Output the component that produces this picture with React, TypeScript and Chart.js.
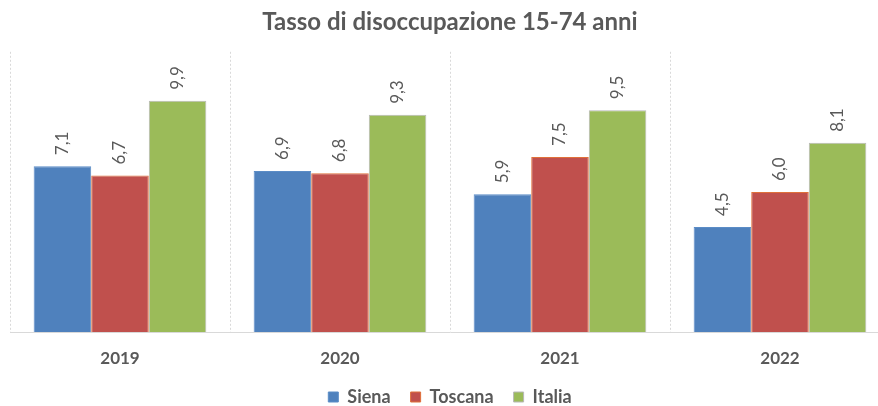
import React, { useEffect, useRef } from "react";
import { Chart, registerables } from "chart.js";

Chart.register(...registerables);

const categories = ["2019", "2020", "2021", "2022"];
const siena = [7.1, 6.9, 5.9, 4.5];
const toscana = [6.7, 6.8, 7.5, 6.0];
const italia = [9.9, 9.3, 9.5, 8.1];
const seriesNames = ["Siena", "Toscana", "Italia"];
const titleText = "Tasso di disoccupazione 15-74 anni";

const FONT = "Lato, 'Open Sans', sans-serif";
const TEXT = "#595959";

const labelPlugin = {
  id: "barLabels",
  afterDatasetsDraw(chart: any) {
    const ctx = chart.ctx;
    ctx.save();
    ctx.font = `17px ${FONT}`;
    ctx.fillStyle = TEXT;
    ctx.textAlign = "left";
    ctx.textBaseline = "middle";
    chart.data.datasets.forEach((ds: any, i: number) => {
      const meta = chart.getDatasetMeta(i);
      meta.data.forEach((el: any, j: number) => {
        const v = ds.data[j] as number;
        const txt = v.toFixed(1).replace(".", ",");
        ctx.save();
        ctx.translate(el.x, el.y - 11);
        ctx.rotate(-Math.PI / 2);
        ctx.fillText(txt, 0, 0);
        ctx.restore();
      });
    });
    ctx.restore();
  },
};

export default function App() {
  const ref = useRef<HTMLCanvasElement | null>(null);
  useEffect(() => {
    if (!ref.current) return;
    const chart = new Chart(ref.current, {
      type: "bar",
      data: {
        labels: categories,
        datasets: [
          { label: seriesNames[0], data: siena, backgroundColor: "#4f81bd", borderColor: "#5b8cc6", borderWidth: 1 },
          { label: seriesNames[1], data: toscana, backgroundColor: "#c0504d", borderColor: "#e0703a", borderWidth: 1 },
          { label: seriesNames[2], data: italia, backgroundColor: "#9bbb59", borderColor: "#b8b8b8", borderWidth: 1 },
        ],
      },
      options: {
        animation: false,
        responsive: true,
        maintainAspectRatio: false,
        layout: { padding: { left: 10, right: 0, top: 0, bottom: 0 } },
        datasets: { bar: { categoryPercentage: 0.785, barPercentage: 1 } },
        plugins: {
          title: {
            display: true,
            text: titleText,
            color: TEXT,
            font: { family: FONT, size: 24, weight: "bold" },
            padding: { top: 8, bottom: 15 },
          },
          legend: {
            position: "bottom",
            labels: {
              color: TEXT,
              font: { family: FONT, size: 18, weight: "bold" },
              boxWidth: 10,
              boxHeight: 10,
              padding: 20,
            },
          },
          tooltip: { enabled: false },
        },
        scales: {
          x: {
            afterFit: (scale: any) => {
              scale.height = 36;
            },
            grid: {
              display: true,
              offset: true,
              color: "#d9d9d9",
              drawTicks: false,
            },
            border: { display: true, color: "#d9d9d9", dash: [2, 2] },
            ticks: {
              color: TEXT,
              font: { family: FONT, size: 17, weight: "bold" },
              padding: 16,
            },
          },
          y: {
            display: false,
            min: 0,
            max: 12,
          },
        },
      },
      plugins: [labelPlugin],
    });
    return () => chart.destroy();
  }, []);
  return (
    <div style={{ position: "absolute", left: 0, top: 0, width: 878, height: 406, overflow: "hidden", background: "#fff" }}>
      <div style={{ width: 890, height: 416, position: "relative" }}>
        <canvas ref={ref} />
      </div>
    </div>
  );
}
